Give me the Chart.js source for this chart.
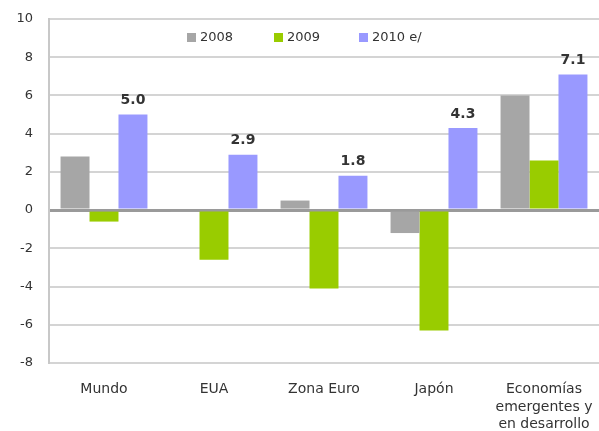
<!DOCTYPE html>
<html>
<head>
<meta charset="utf-8">
<script src="https://cdn.jsdelivr.net/npm/chart.js@4"></script>
<style>
  html, body { margin: 0; padding: 0; background: #fff; }
</style>
</head>
<body>
<canvas id="grafica" width="599" height="431"></canvas>
<script>
// Datos del gráfico (crecimiento del PIB, %)
const categorias = ['Mundo', 'EUA', 'Zona Euro', 'Japón', ['Economías', 'emergentes y', 'en desarrollo']];
const serie2008 = [2.8, -0.1, 0.5, -1.2, 6.0];
const serie2009 = [-0.6, -2.6, -4.1, -6.3, 2.6];
const serie2010 = [5.0, 2.9, 1.8, 4.3, 7.1];
const etiquetasSeries = ['2008', '2009', '2010 e/'];
const coloresSeries = ['#A6A6A6', '#99CC00', '#9999FF'];
const ejeY = { min: -8, max: 10, paso: 2 };

const fuente = '"DejaVu Sans"';
const colorTexto = '#333333';
Chart.defaults.font.family = fuente;

// Leyenda dentro del área del gráfico
const leyendaInterna = {
    id: 'leyendaInterna',
    afterDraw(chart) {
        const c = chart.ctx;
        const xs = [187, 274, 359];
        c.save();
        c.font = '13px ' + fuente;
        c.textBaseline = 'middle';
        chart.data.datasets.forEach((ds, i) => {
            c.fillStyle = ds.backgroundColor;
            c.fillRect(xs[i], 33, 9, 9);
            c.fillStyle = colorTexto;
            c.fillText(ds.label, xs[i] + 13, 38);
        });
        c.restore();
    }
};

// Valores sobre las barras de 2010
const etiquetasValor = {
    id: 'etiquetasValor',
    afterDatasetsDraw(chart) {
        const c = chart.ctx;
        const meta = chart.getDatasetMeta(2);
        c.save();
        c.font = 'bold 14px ' + fuente;
        c.fillStyle = colorTexto;
        c.textAlign = 'center';
        c.textBaseline = 'bottom';
        meta.data.forEach((bar, i) => {
            c.fillText(serie2010[i].toFixed(1), bar.x, bar.y - 7);
        });
        c.restore();
    }
};

const grafica = new Chart(document.getElementById('grafica').getContext('2d'), {
    type: 'bar',
    data: {
        labels: categorias,
        datasets: [
            { label: etiquetasSeries[0], data: serie2008, backgroundColor: coloresSeries[0] },
            { label: etiquetasSeries[1], data: serie2009, backgroundColor: coloresSeries[1] },
            { label: etiquetasSeries[2], data: serie2010, backgroundColor: coloresSeries[2] }
        ]
    },
    options: {
        responsive: false,
        animation: false,
        datasets: {
            bar: { barPercentage: 1, categoryPercentage: 0.79 }
        },
        layout: { padding: { top: 19, left: 0, right: 0, bottom: 0 } },
        plugins: {
            legend: { display: false },
            tooltip: { enabled: false }
        },
        scales: {
            x: {
                grid: { display: false, drawTicks: false },
                border: { display: false },
                ticks: {
                    color: colorTexto,
                    font: { size: 14, lineHeight: 1.28 },
                    padding: 17,
                    maxRotation: 0,
                    autoSkip: false
                },
                afterFit(scale) {
                    scale.height = 68;
                    scale.paddingLeft = 0;
                    scale.paddingRight = 0;
                }
            },
            y: {
                min: ejeY.min,
                max: ejeY.max,
                ticks: {
                    stepSize: ejeY.paso,
                    color: colorTexto,
                    font: { size: 13 },
                    padding: 16
                },
                grid: {
                    drawTicks: false,
                    color: (ctx) => ctx.tick && ctx.tick.value === 0 ? '#9A9A9A' : '#D4D4D4',
                    lineWidth: (ctx) => ctx.tick && ctx.tick.value === 0 ? 3 : 2
                },
                border: { display: true, color: '#C8C8C8', width: 2 },
                afterFit(scale) {
                    scale.width = 49;
                    scale.paddingTop = 0;
                    scale.paddingBottom = 0;
                }
            }
        }
    },
    plugins: [leyendaInterna, etiquetasValor]
});
</script>
</body>
</html>
